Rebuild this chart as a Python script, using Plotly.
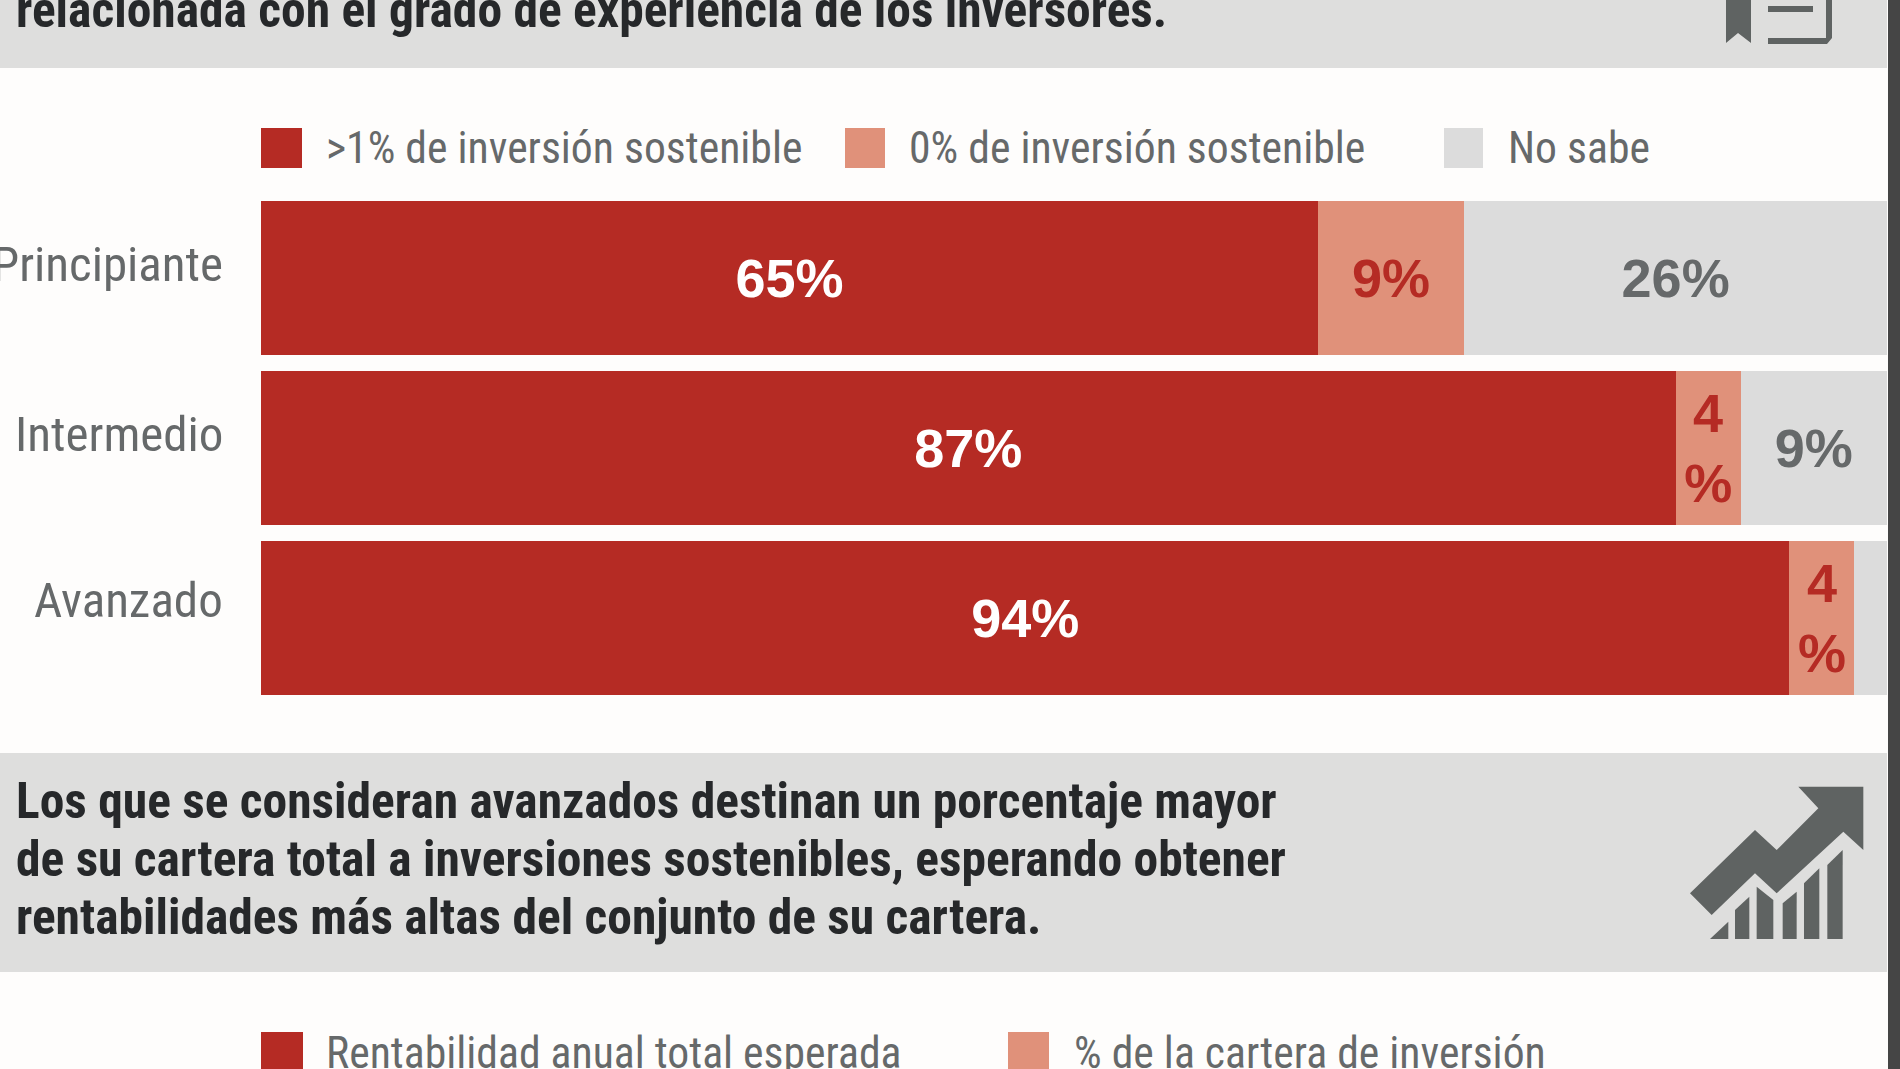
import plotly.graph_objects as go

W = 1900
H = 1069

niveles = ['Principiante', 'Intermedio', 'Avanzado']
mas_uno = [65, 87, 94]
cero = [9, 4, 4]
no_sabe = [26, 9, 2]
txt_mas_uno = ['65%', '87%', '94%']
txt_cero = ['9%', '4<br>%', '4<br>%']
txt_no_sabe = ['26%', '9%', '']

leyenda1 = ['>1% de inversión sostenible', '0% de inversión sostenible', 'No sabe']
leyenda2 = ['Rentabilidad anual total esperada', '% de la cartera de inversión']
titulo_arriba = 'relacionada con el grado de experiencia de los inversores.'
titulo_abajo = ['Los que se consideran avanzados destinan un porcentaje mayor',
                'de su cartera total a inversiones sostenibles, esperando obtener',
                'rentabilidades más altas del conjunto de su cartera.']

ROJO = '#b52b24'
SALMON = '#e0917a'
GRIS = '#dcdcdc'
BANDA = '#dededd'
TEXTO = '#66696a'
ICONO = '#5f6362'
NARROW = 'Roboto Condensed, Open Sans Condensed, Noto Sans Condensed, Roboto'
T_LEY = 43.7
T_TIT = 49.5
T_NIV = 49


def px(x):
    return x / W


def py(y):
    return 1 - y / H


def rect(x0, y0, x1, y1, color):
    return dict(type='rect', xref='paper', yref='paper', x0=px(x0), x1=px(x1), y0=py(y0), y1=py(y1),
                fillcolor=color, line=dict(width=0), layer='below')


def poly(puntos, color, ox=0, oy=0, k=1):
    d = ''
    for i, (a, b) in enumerate(puntos):
        d += ('M' if i == 0 else 'L') + f'{px(ox + a / k):.5f},{py(oy + b / k):.5f} '
    return dict(type='path', xref='paper', yref='paper', path=d + 'Z', fillcolor=color, line=dict(width=0))


def texto(s, x, base, size, color, bold=False, anchor='left'):
    # base = linea base del texto en pixeles
    return dict(text=f'<b>{s}</b>' if bold else s, xref='paper', yref='paper', x=px(x), y=py(base),
                xanchor=anchor, yanchor='bottom', yshift=-size * 0.27, showarrow=False, align='left',
                borderpad=0, font=dict(family=NARROW, size=size, color=color))


fig = go.Figure()
for nombre, vals, color, txt, colortxt in [
    (leyenda1[0], mas_uno, ROJO, txt_mas_uno, 'white'),
    (leyenda1[1], cero, SALMON, txt_cero, ROJO),
    (leyenda1[2], no_sabe, GRIS, txt_no_sabe, TEXTO),
]:
    fig.add_trace(go.Bar(y=niveles, x=vals, name=nombre, orientation='h', marker=dict(color=color, line=dict(width=0)),
                         text=txt, textposition='inside', insidetextanchor='middle', textangle=0,
                         constraintext='none',
                         insidetextfont=dict(family='Liberation Sans', size=54, color=colortxt, weight='bold')))

formas = [
    rect(0, 0, 1887, 68, BANDA),
    rect(0, 753, 1887, 972, BANDA),
    rect(1888, 0, W, H, '#454545'),
    rect(261, 128, 302, 168, ROJO),
    rect(845, 128, 885, 168, SALMON),
    rect(1444, 128, 1483, 168, GRIS),
    rect(261, 1032, 303, 1075, ROJO),
    rect(1008, 1032, 1049, 1075, SALMON),
]

# icono de arriba
formas.append(poly([(1726, -2), (1751, -2), (1751, 43), (1738, 33), (1726, 43)], ICONO))
formas.append(poly([(1768, 6), (1813, 6), (1813, 12), (1768, 12)], ICONO))
formas.append(poly([(1826, -2), (1832, -2), (1832, 38), (1827, 44), (1768, 44), (1768, 38), (1826, 38)], ICONO))

# icono de la flecha
flecha = [(595, 140), (790, 140), (790, 330), (730, 275), (530, 460), (465, 400), (335, 525), (270, 460),
          (465, 270), (530, 330), (655, 205)]
barritas = [
    [(330, 597), (385, 597), (385, 545)],
    [(405, 597), (448, 597), (448, 470), (405, 510)],
    [(470, 597), (520, 597), (520, 480), (470, 440)],
    [(548, 597), (590, 597), (590, 455), (548, 490)],
    [(612, 597), (658, 597), (658, 385), (612, 430)],
    [(682, 597), (728, 597), (728, 330), (682, 375)],
]
formas.append(poly(flecha, ICONO, 1600, 740, 3))
for b in barritas:
    formas.append(poly(b, ICONO, 1600, 740, 3))

notas = [
    texto(titulo_arriba, 15, 27, T_TIT, '#26282a', bold=True),
    texto(titulo_abajo[0], 15, 818, T_TIT, '#26282a', bold=True),
    texto(titulo_abajo[1], 15, 876, T_TIT, '#26282a', bold=True),
    texto(titulo_abajo[2], 15, 934, T_TIT, '#26282a', bold=True),
    texto(leyenda1[0], 325, 163, T_LEY, TEXTO),
    texto(leyenda1[1], 908, 163, T_LEY, TEXTO),
    texto(leyenda1[2], 1507, 163, T_LEY, TEXTO),
    texto(leyenda2[0], 325, 1068, T_LEY, TEXTO),
    texto(leyenda2[1], 1073, 1068, T_LEY, TEXTO),
]
# etiquetas de nivel, un poco por encima del centro de cada barra
subida = [14, 14, 18]
for n, s in zip(niveles, subida):
    notas.append(dict(text=n, xref='x', yref='y', x=0, y=n, xanchor='right', yanchor='middle', xshift=-36, yshift=s,
                      showarrow=False, font=dict(family=NARROW, size=T_NIV, color=TEXTO)))

fig.update_layout(
    width=W, height=H, margin=dict(l=0, r=0, t=0, b=0),
    paper_bgcolor='#fefdfc', plot_bgcolor='#fefdfc',
    barmode='stack', bargap=16 / 170, showlegend=False,
    xaxis=dict(domain=[px(261), px(1887)], range=[0, 100], visible=False),
    yaxis=dict(domain=[py(703), py(193)], autorange='reversed', visible=False),
    shapes=formas, annotations=notas,
)

fig.write_html("out.html", config=dict(displayModeBar=False),
               post_script="document.body.style.margin='0';document.body.style.overflow='hidden';")
